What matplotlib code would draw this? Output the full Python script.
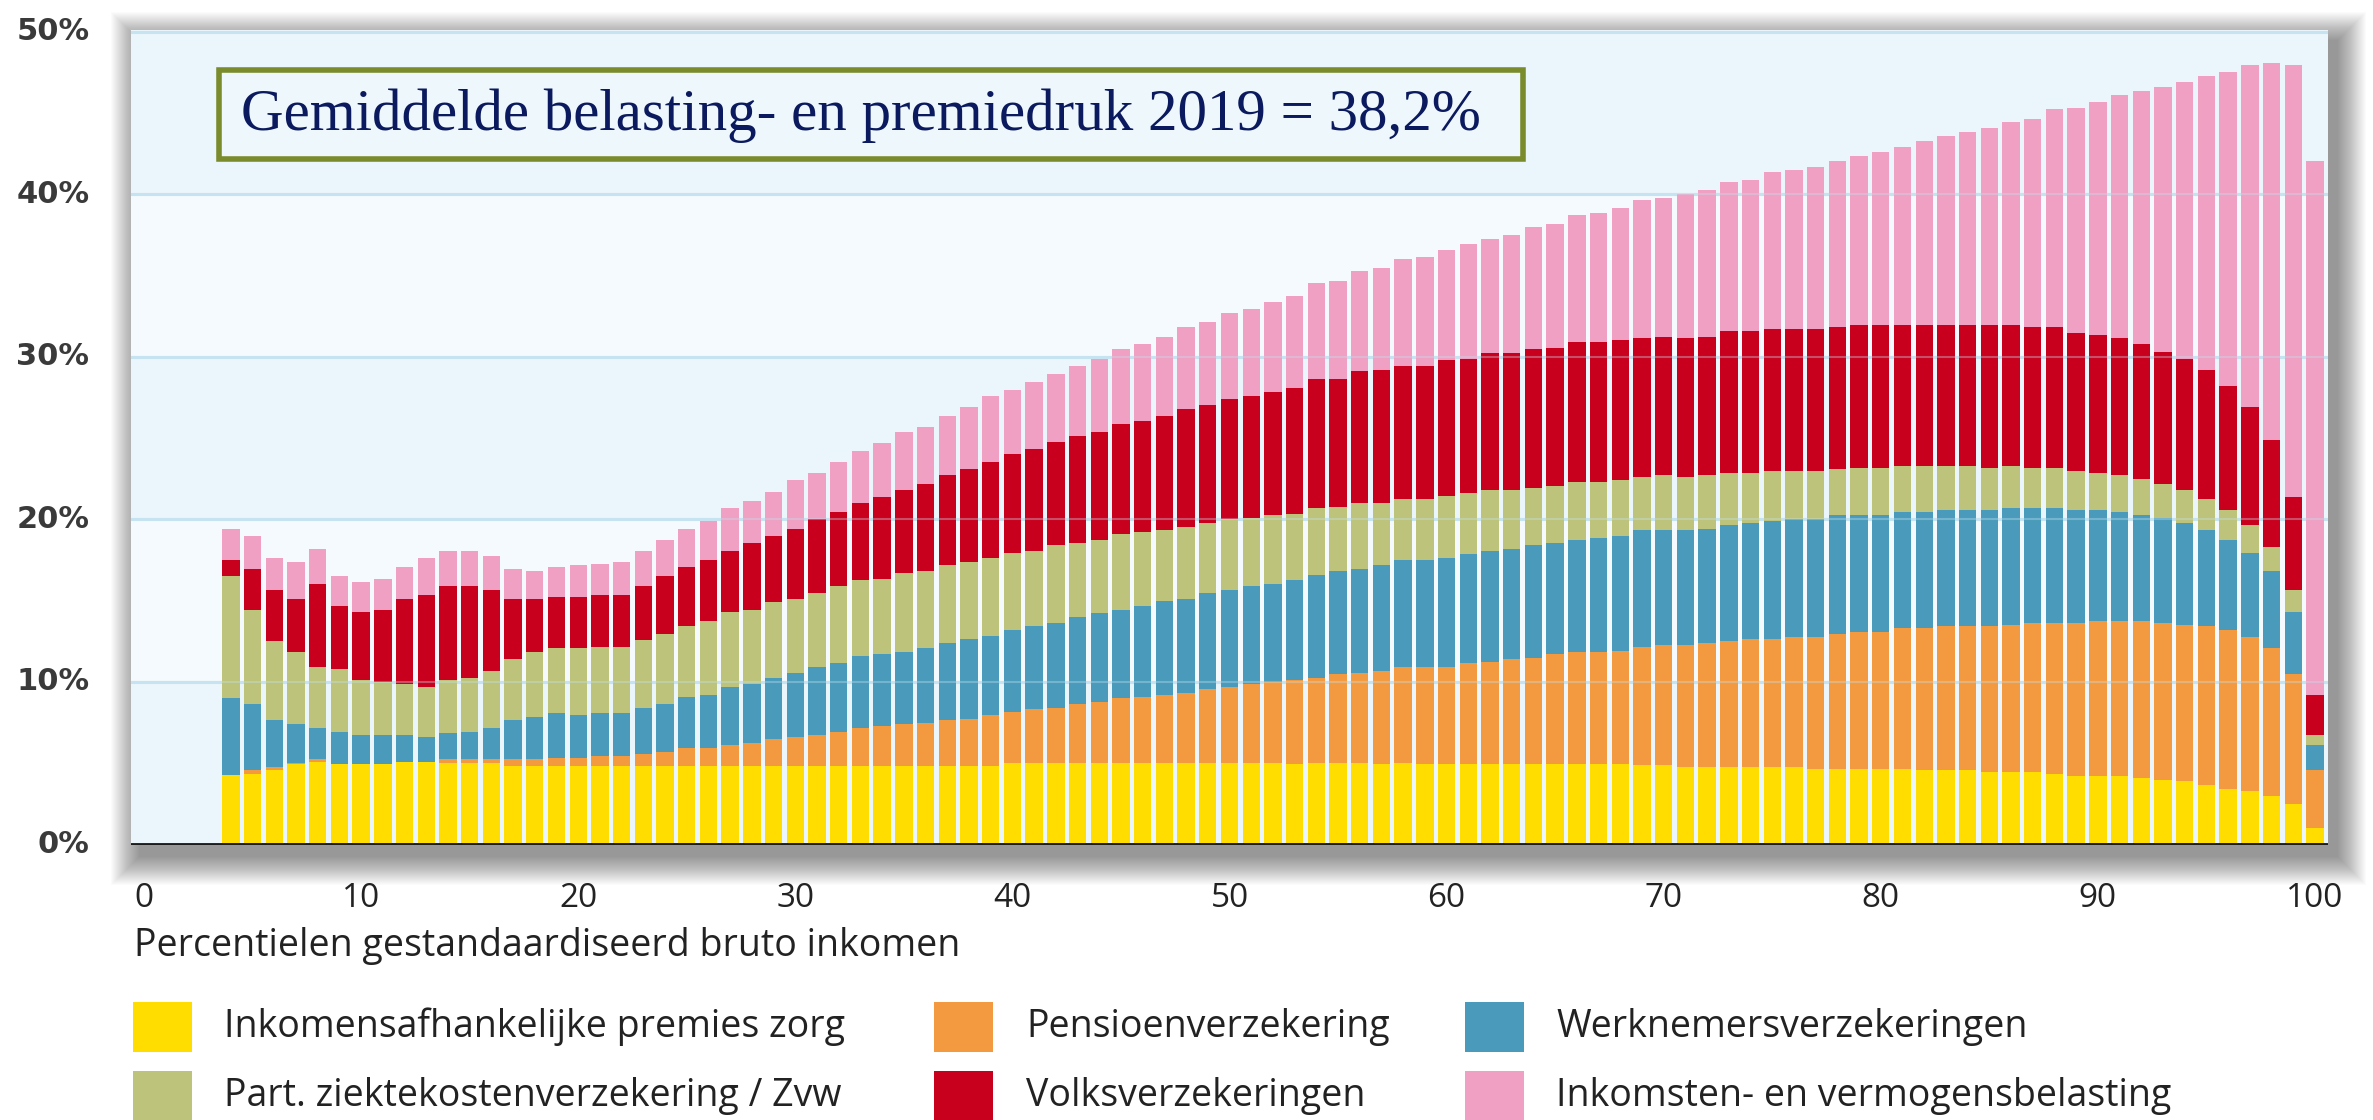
import numpy as np
import matplotlib
matplotlib.use('Agg')
import matplotlib.pyplot as plt
from matplotlib.patches import Rectangle

# ---------------- data ----------------
percentielen = np.arange(4, 101)

zorg_premies = [4.26, 4.33, 4.57, 4.94, 5.08, 4.94, 4.94, 4.94, 5.08, 5.08,
                5.0, 5.0, 5.0, 4.84, 4.84, 4.84, 4.84, 4.84, 4.84, 4.84,
                4.84, 4.84, 4.84, 4.84, 4.84, 4.84, 4.84, 4.84, 4.84, 4.84,
                4.84, 4.84, 4.84, 4.84, 4.84, 4.84, 5.0, 5.0, 5.0, 5.0,
                5.0, 5.0, 5.0, 5.0, 5.0, 5.0, 5.0, 5.0, 5.0, 4.94,
                5.0, 5.0, 5.0, 4.94, 5.0, 4.94, 4.94, 4.94, 4.94, 4.94,
                4.94, 4.94, 4.94, 4.94, 4.94, 4.87, 4.87, 4.77, 4.77, 4.77,
                4.77, 4.77, 4.77, 4.67, 4.67, 4.67, 4.67, 4.67, 4.57, 4.57,
                4.57, 4.43, 4.43, 4.43, 4.33, 4.22, 4.22, 4.22, 4.09, 3.99,
                3.88, 3.65, 3.41, 3.3, 2.96, 2.52, 1.02]

pensioen = [0.0, 0.24, 0.20, 0.06, 0.17, 0.0, 0.0, 0.0, 0.0, 0.0,
            0.25, 0.25, 0.25, 0.41, 0.41, 0.51, 0.51, 0.61, 0.61, 0.75,
            0.85, 1.09, 1.09, 1.29, 1.43, 1.63, 1.77, 1.87, 2.11, 2.35,
            2.45, 2.55, 2.66, 2.79, 2.89, 3.13, 3.18, 3.31, 3.42, 3.65,
            3.76, 3.99, 4.10, 4.20, 4.34, 4.54, 4.68, 4.88, 5.02, 5.18,
            5.22, 5.46, 5.56, 5.76, 5.90, 5.96, 5.96, 6.20, 6.30, 6.44,
            6.54, 6.78, 6.88, 6.88, 6.99, 7.29, 7.40, 7.50, 7.63, 7.73,
            7.84, 7.84, 7.97, 8.07, 8.28, 8.41, 8.41, 8.62, 8.72, 8.85,
            8.85, 8.99, 9.10, 9.20, 9.30, 9.41, 9.54, 9.54, 9.67, 9.64,
            9.65, 9.77, 9.78, 9.44, 9.10, 7.94, 3.55]

werknemers = [4.74, 4.05, 2.86, 2.39, 1.94, 2.01, 1.77, 1.77, 1.63, 1.53,
              1.60, 1.70, 1.94, 2.38, 2.62, 2.72, 2.62, 2.62, 2.62, 2.83,
              2.96, 3.17, 3.27, 3.55, 3.61, 3.75, 3.95, 4.19, 4.19, 4.39,
              4.43, 4.43, 4.56, 4.77, 4.88, 4.88, 5.01, 5.11, 5.21, 5.32,
              5.45, 5.46, 5.55, 5.79, 5.79, 5.93, 5.99, 6.02, 5.99, 6.13,
              6.37, 6.37, 6.37, 6.47, 6.61, 6.61, 6.72, 6.71, 6.82, 6.81,
              6.92, 6.81, 6.92, 7.06, 7.05, 7.16, 7.05, 7.05, 7.02, 7.16,
              7.15, 7.29, 7.26, 7.26, 7.29, 7.16, 7.16, 7.15, 7.15, 7.16,
              7.16, 7.16, 7.15, 7.05, 7.05, 6.95, 6.82, 6.68, 6.48, 6.47,
              6.23, 5.90, 5.55, 5.22, 4.77, 3.85, 1.56]

zvw = [7.50, 5.83, 4.87, 4.43, 3.75, 3.85, 3.41, 3.31, 3.17, 3.07,
       3.27, 3.27, 3.51, 3.75, 3.95, 3.99, 4.09, 4.09, 4.09, 4.18,
       4.30, 4.32, 4.56, 4.63, 4.57, 4.67, 4.57, 4.57, 4.76, 4.67,
       4.63, 4.88, 4.77, 4.77, 4.77, 4.77, 4.77, 4.64, 4.77, 4.56,
       4.53, 4.63, 4.57, 4.33, 4.43, 4.29, 4.33, 4.20, 4.23, 4.09,
       4.09, 3.95, 4.09, 3.85, 3.75, 3.75, 3.84, 3.75, 3.75, 3.62,
       3.54, 3.51, 3.54, 3.40, 3.41, 3.30, 3.41, 3.30, 3.31, 3.17,
       3.07, 3.06, 2.96, 2.96, 2.83, 2.93, 2.93, 2.87, 2.87, 2.73,
       2.73, 2.59, 2.63, 2.49, 2.49, 2.38, 2.25, 2.29, 2.25, 2.05,
       2.05, 1.94, 1.84, 1.70, 1.47, 1.36, 0.58]

volks = [1.00, 2.48, 3.17, 3.31, 5.07, 3.85, 4.19, 4.43, 5.25, 5.65,
         5.78, 5.68, 4.97, 3.75, 3.31, 3.17, 3.17, 3.17, 3.17, 3.30,
         3.54, 3.62, 3.75, 3.75, 4.08, 4.09, 4.29, 4.53, 4.54, 4.77,
         5.01, 5.11, 5.32, 5.56, 5.69, 5.89, 6.03, 6.27, 6.37, 6.58,
         6.61, 6.81, 6.81, 7.05, 7.25, 7.29, 7.39, 7.50, 7.60, 7.73,
         7.94, 7.84, 8.08, 8.18, 8.18, 8.18, 8.32, 8.28, 8.41, 8.41,
         8.52, 8.52, 8.62, 8.62, 8.62, 8.52, 8.51, 8.52, 8.51, 8.75,
         8.75, 8.73, 8.73, 8.73, 8.75, 8.76, 8.76, 8.62, 8.62, 8.62,
         8.62, 8.76, 8.62, 8.65, 8.65, 8.52, 8.52, 8.41, 8.31, 8.17,
         8.07, 7.94, 7.60, 7.26, 6.57, 5.69, 2.49]

ib_vb = [1.90, 2.05, 1.93, 2.25, 2.18, 1.84, 1.84, 1.90, 1.91, 2.27,
         2.16, 2.16, 2.05, 1.80, 1.70, 1.81, 1.94, 1.94, 2.05, 2.16,
         2.25, 2.38, 2.39, 2.62, 2.59, 2.72, 2.97, 2.83, 3.07, 3.17,
         3.31, 3.54, 3.54, 3.64, 3.85, 4.09, 3.95, 4.09, 4.19, 4.33,
         4.53, 4.57, 4.77, 4.87, 5.01, 5.11, 5.32, 5.35, 5.55, 5.66,
         5.93, 6.03, 6.20, 6.23, 6.57, 6.68, 6.81, 7.05, 7.05, 7.26,
         7.50, 7.60, 7.84, 7.94, 8.17, 8.52, 8.52, 8.86, 9.03, 9.20,
         9.31, 9.67, 9.77, 10.01, 10.22, 10.45, 10.66, 11.00, 11.34, 11.68,
         11.92, 12.16, 12.50, 12.81, 13.39, 13.83, 14.31, 14.99, 15.54, 16.26,
         17.04, 18.06, 19.32, 21.02, 23.17, 26.58, 32.84]

series_labels = ['Inkomensafhankelijke premies zorg', 'Pensioenverzekering',
                 'Werknemersverzekeringen', 'Part. ziektekostenverzekering / Zvw',
                 'Volksverzekeringen', 'Inkomsten- en vermogensbelasting']
series_colors = ['#FFDD00', '#F39A40', '#4A9BBB', '#BEC37B', '#C8001D', '#EFA0C3']
stack_order = [zorg_premies, pensioen, werknemers, zvw, volks, ib_vb]

x_ticks = [0, 10, 20, 30, 40, 50, 60, 70, 80, 90, 100]
y_ticks = [0, 10, 20, 30, 40, 50]
y_ticklabels = ['0%', '10%', '20%', '30%', '40%', '50%']
title_text = 'Gemiddelde belasting- en premiedruk 2019 = 38,2%'
x_label = 'Percentielen gestandaardiseerd bruto inkomen'

# ---------------- figure ----------------
W, H = 2373, 1120
fig = plt.figure(figsize=(W / 100, H / 100), dpi=100)
fig.patch.set_facecolor('white')

L, R, T, B = 131, 2328, 30, 844.5
ax = fig.add_axes([L / W, 1 - B / H, (R - L) / W, (B - T) / H])
ax.set_zorder(2)

# soft drop shadow behind the plot area (mostly bottom/right)
for k in range(1, 30):
    e = k * 1.0
    dx, dy = 9, 11
    rect = Rectangle(((L + dx - e) / W, 1 - (B + dy + e) / H),
                     (R - L + 2 * e) / W, (B - T + 2 * e) / H,
                     transform=fig.transFigure, facecolor='#000000',
                     alpha=0.016, edgecolor='none', zorder=0.5)
    fig.patches.append(rect)

ax.set_facecolor('#EAF6FC')
for lo, hi, c in [(0, 10, '#EAF6FC'), (10, 20, '#F4FAFD'), (20, 30, '#EAF6FC'),
                  (30, 40, '#F4FAFD'), (40, 50.5, '#EAF6FC')]:
    ax.axhspan(lo, hi, color=c, zorder=0, lw=0)

for yv in [10, 20, 30, 40, 50]:
    ax.axhline(yv, color='#C6E3F2', lw=2.2, zorder=1)

bottom = np.zeros(len(percentielen))
for vals, col, lab in zip(stack_order, series_colors, series_labels):
    vals = np.asarray(vals)
    ax.bar(percentielen, vals, bottom=bottom, width=0.8, color=col,
           edgecolor='none', linewidth=0, zorder=2, label=lab)
    bottom = bottom + vals

for yv in [10, 20, 30, 40]:
    ax.axhline(yv, color='#C6E3F2', lw=1.5, alpha=0.35, zorder=3)

ax.axhline(0, color='#1c1c1c', lw=3.5, zorder=5)

ax.set_xlim(-0.6, 100.6)
ax.set_ylim(0, 50.1)
for s in ax.spines.values():
    s.set_visible(False)

ax.set_xticks(x_ticks)
ax.set_xticklabels([str(v) for v in x_ticks], fontfamily='Open Sans',
                   fontsize=24, color='#222222')
ax.set_yticks(y_ticks)
ax.set_yticklabels(y_ticklabels, fontfamily='DejaVu Sans', fontweight='bold',
                   fontsize=22, color='#3a3a3a')
ax.tick_params(axis='x', length=0, pad=27)
ax.tick_params(axis='y', length=0, pad=30)
for lbl in ax.get_yticklabels():
    lbl.set_verticalalignment('center')

# x label
fig.text(134 / W, 1 - 956 / H, x_label, fontfamily='Open Sans', fontsize=27,
         color='#222222', ha='left', va='baseline')

# title box
bx0, bx1, by0, by1 = 219, 1523, 70, 159
fig.patches.append(Rectangle((bx0 / W, 1 - by1 / H), (bx1 - bx0) / W, (by1 - by0) / H,
                             transform=fig.transFigure, facecolor='#EEF7FC',
                             edgecolor='#7A8B2B', lw=4, zorder=10))
fig.text(241 / W, 1 - 116 / H, title_text, fontfamily='Liberation Serif',
         fontsize=42.5, color='#0B1A5E', ha='left', va='center', zorder=11)

# legend
sw_w, sw_h = 59, 50
cols_sw = [133, 934, 1465]
cols_tx = [224, 1026, 1556]
rows_top = [1002, 1071]
for i, (lab, col) in enumerate(zip(series_labels, series_colors)):
    r, c = divmod(i, 3)
    y0 = rows_top[r]
    fig.patches.append(Rectangle((cols_sw[c] / W, 1 - (y0 + sw_h) / H), sw_w / W, sw_h / H,
                                 transform=fig.transFigure, facecolor=col,
                                 edgecolor='none', zorder=5))
    fig.text(cols_tx[c] / W, 1 - (y0 + sw_h / 2) / H, lab, fontfamily='Open Sans',
             fontsize=27, color='#222222', ha='left', va='center')

fig.savefig('out.png', dpi=100, facecolor='white')
